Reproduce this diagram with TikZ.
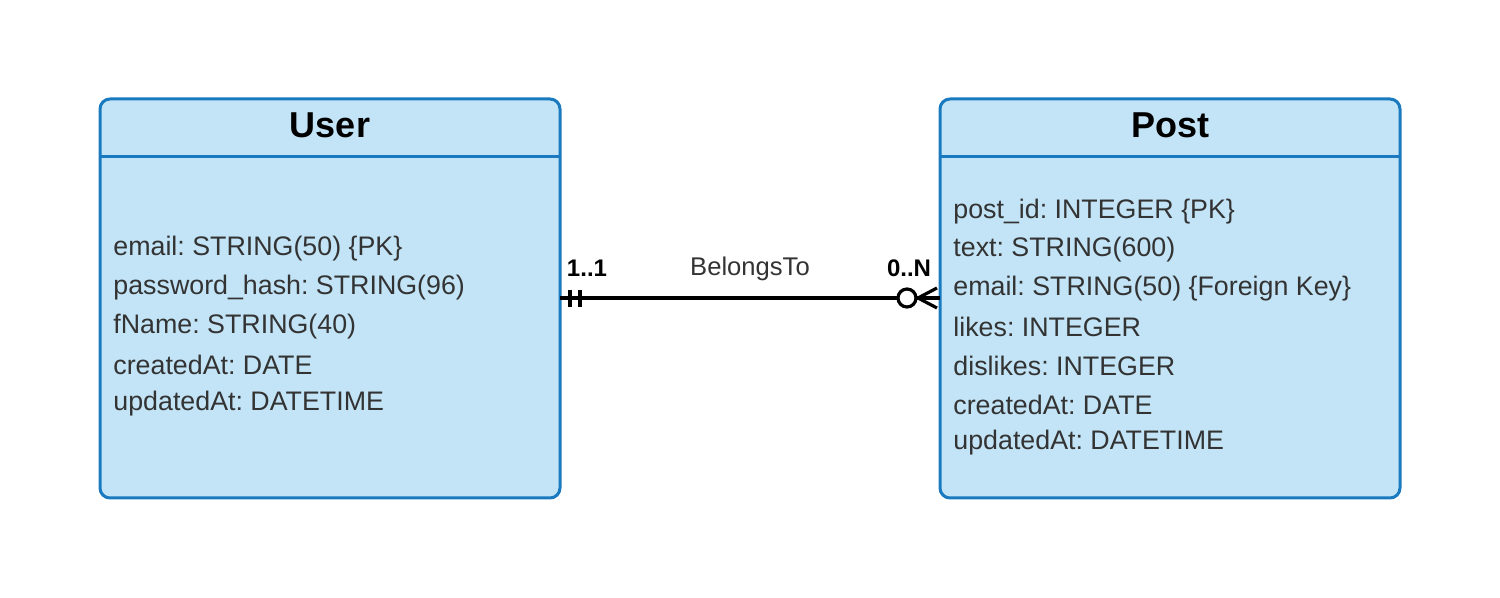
\documentclass[tikz,border=0pt]{standalone}
\usepackage{fontspec}
\setmainfont{Liberation Sans}
\frenchspacing
\begin{document}
\begin{tikzpicture}[x=0.5pt,y=-0.5pt,
  entity/.style={draw=boxline,fill=boxfill,line width=1.5pt,rounded corners=5pt},
  attr/.style={anchor=west,inner sep=0pt,text=txt,font=\fontsize{13.4}{16}\selectfont,yshift=-1pt},
  title/.style={font=\bfseries\fontsize{18}{21}\selectfont,inner sep=0pt},
  card/.style={font=\bfseries\fontsize{12}{14}\selectfont,inner sep=0pt},
  rel/.style={line width=1.6pt,black}]
\definecolor{boxline}{HTML}{1A7ABF}
\definecolor{boxfill}{HTML}{C2E4F6}
\definecolor{txt}{HTML}{333333}
\useasboundingbox (0,0) rectangle (1500,598);
% User
\draw[entity] (100,99) rectangle (560,498);
\draw[boxline,line width=1.5pt] (100,157) -- (560,157);
\node[title] (ut) at (330,125) {User};
\coordinate (uR) at (560,298);
\node[attr] (u1) at (113,247) {email: STRING(50) \{PK\}};
\node[attr] (u2) at (113,286) {password\_hash: STRING(96)};
\node[attr] (u3) at (113,325) {fName: STRING(40)};
\node[attr] (u4) at (113,363) {createdAt: DATE};
\node[attr] (u5) at (113,402) {updatedAt: DATETIME};
% Post
\draw[entity] (940,99) rectangle (1400,498);
\draw[boxline,line width=1.5pt] (940,157) -- (1400,157);
\node[title] (pt) at (1170,125) {Post};
\coordinate (pL) at (940,298);
\node[attr] (p1) at (953,210) {post\_id: INTEGER \{PK\}};
\node[attr] (p2) at (953,248) {text: STRING(600)};
\node[attr] (p3) at (953,287) {email: STRING(50) \{Foreign Key\}};
\node[attr] (p4) at (953,325) {likes: INTEGER};
\node[attr] (p5) at (953,364) {dislikes: INTEGER};
\node[attr] (p6) at (953,403) {createdAt: DATE};
\node[attr] (p7) at (953,441) {updatedAt: DATETIME};
% relationship
\coordinate (circ) at (907,298);
\draw[rel] (uR) -- ([xshift=-9*0.5pt]circ);
\draw[rel] (570,290) -- (570,307);
\draw[rel] (580,290) -- (580,307);
\draw[rel] (circ) circle (4.5pt);
\draw[rel] (916,298) -- (pL);
\draw[rel] (918,298) -- (937,288);
\draw[rel] (918,298) -- (937,308);
\node[card] (c1) at (587,268) {1..1};
\node[card] (c2) at (909,268) {0..N};
\node[attr,anchor=center,font=\fontsize{12.8}{15}\selectfont] (lbl) at (750,267) {BelongsTo};
\end{tikzpicture}
\end{document}
